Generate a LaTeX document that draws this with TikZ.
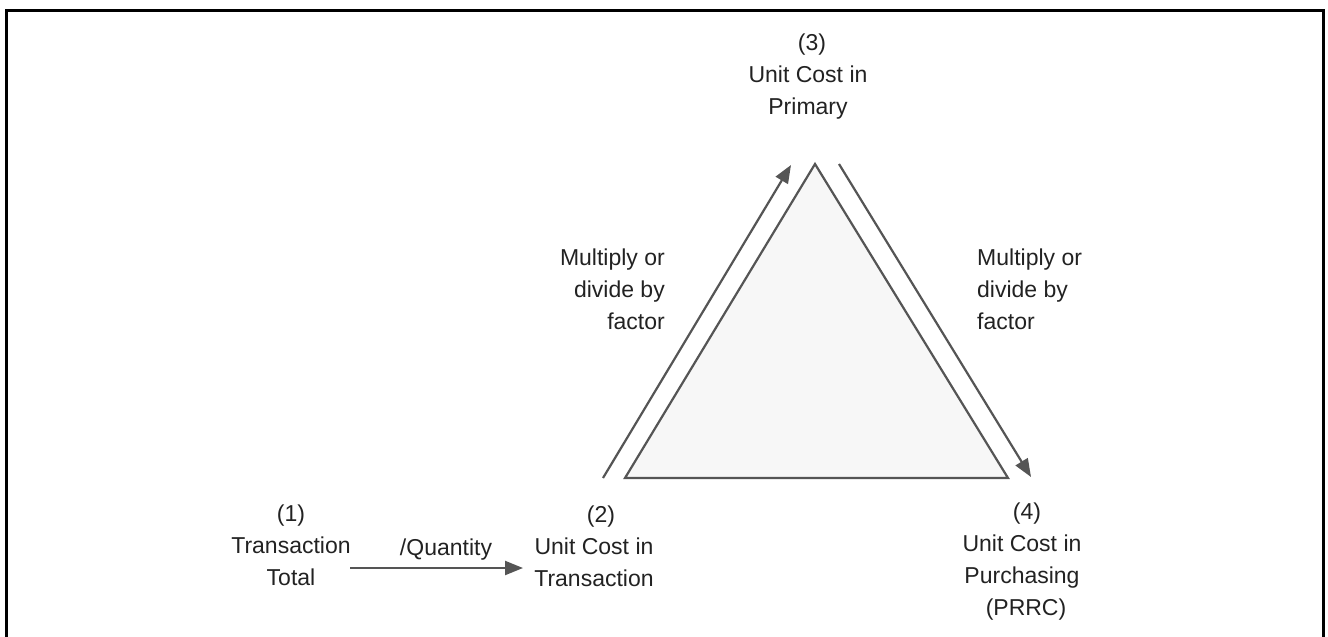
\documentclass[tikz,border=0pt]{standalone}
\usepackage{fontspec}
\setmainfont{Liberation Sans}
\usetikzlibrary{arrows.meta}
\definecolor{linegray}{HTML}{555555}
\definecolor{txt}{HTML}{222222}
\definecolor{trifill}{HTML}{F7F7F7}
\begin{document}
\begin{tikzpicture}[x=1pt,y=-1pt,
  lbl/.style={inner sep=0pt,text=txt,font=\fontsize{23}{32}\selectfont},
  conn/.style={draw=linegray,line width=2.2pt,-{Triangle[length=18pt,width=14pt]}},
  tri/.style={draw=linegray,line width=2.2pt,fill=trifill,line join=miter}]
\useasboundingbox (0,0) rectangle (1328,637);
% frame
\draw[line width=3pt,black] (6,645) -- (6,10) -- (1323,10) -- (1323,645);
% triangle
\coordinate (top) at (815,164);
\coordinate (bl) at (625,478);
\coordinate (br) at (1008,478);
\path[tri] (top) -- (bl) -- (br) -- cycle;
% arrows beside triangle
\coordinate (a1s) at (603,478);
\coordinate (a1e) at (791,165);
\coordinate (a2s) at (839,164);
\coordinate (a2e) at (1031,477);
\draw[conn] (a1s) -- (a1e);
\draw[conn] (a2s) -- (a2e);
% labels
\node[lbl,align=center] (n1) at (291,545) {(1)\\Transaction\\Total};
\node[lbl,align=center] (n2) at (594,546) {\hspace{14pt}(2)\\Unit Cost in\\Transaction};
\node[lbl,align=center] (n3) at (808,77) {\hspace{8pt}(3)\\Unit Cost in\\Primary};
\node[lbl,align=center] (n4) at (1022,562) {\hspace{10pt}(4)\\Unit Cost in\\Purchasing\\\hspace{8pt}(PRRC)};
\node[lbl,anchor=base] (q) at (446,555) {/Quantity};
\node[lbl,align=right,anchor=east] (ml) at (665,289) {Multiply or\hspace{7pt}\\divide by\hspace{5pt}\\factor};
\node[lbl,align=left,anchor=west] (mr) at (977,289) {Multiply or\\divide by\\factor};
% quantity arrow
\coordinate (qs) at (350,568);
\coordinate (qe) at (523,568);
\draw[conn] (qs) -- (qe);
\end{tikzpicture}
\end{document}
